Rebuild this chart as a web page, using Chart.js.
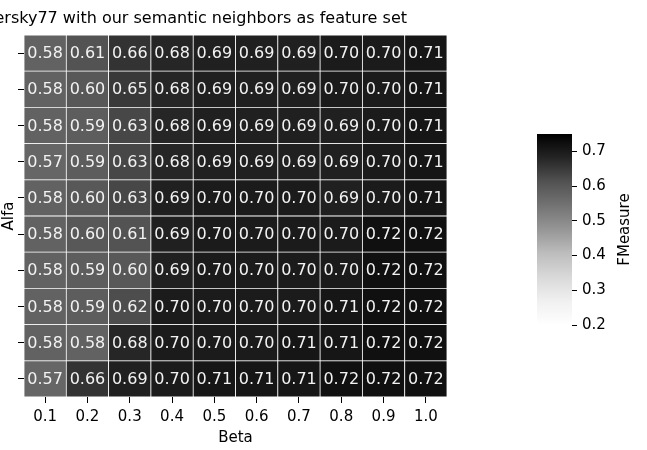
<!DOCTYPE html>
<html>
<head>
<meta charset="utf-8">
<script src="https://cdn.jsdelivr.net/npm/chart.js@4.4.1/dist/chart.umd.min.js"></script>
<style>
  body { margin: 0; background: #fff; }
  #wrap { position: relative; width: 647px; height: 450px; }
  #heat { position: absolute; left: 0; top: 0; }
  #cbar { position: absolute; left: 500px; top: 0; }
</style>
</head>
<body>
<div id="wrap">
  <canvas id="heat" width="647" height="450"></canvas>
  <canvas id="cbar" width="147" height="450"></canvas>
</div>
<script>
// columns (Beta)
const betas = ['0.1', '0.2', '0.3', '0.4', '0.5', '0.6', '0.7', '0.8', '0.9', '1.0'];

// FMeasure per row, from the top row of the heatmap to the bottom one
const row01 = [0.58, 0.61, 0.66, 0.68, 0.69, 0.69, 0.69, 0.70, 0.70, 0.71];
const row02 = [0.58, 0.60, 0.65, 0.68, 0.69, 0.69, 0.69, 0.70, 0.70, 0.71];
const row03 = [0.58, 0.59, 0.63, 0.68, 0.69, 0.69, 0.69, 0.69, 0.70, 0.71];
const row04 = [0.57, 0.59, 0.63, 0.68, 0.69, 0.69, 0.69, 0.69, 0.70, 0.71];
const row05 = [0.58, 0.60, 0.63, 0.69, 0.70, 0.70, 0.70, 0.69, 0.70, 0.71];
const row06 = [0.58, 0.60, 0.61, 0.69, 0.70, 0.70, 0.70, 0.70, 0.72, 0.72];
const row07 = [0.58, 0.59, 0.60, 0.69, 0.70, 0.70, 0.70, 0.70, 0.72, 0.72];
const row08 = [0.58, 0.59, 0.62, 0.70, 0.70, 0.70, 0.70, 0.71, 0.72, 0.72];
const row09 = [0.58, 0.58, 0.68, 0.70, 0.70, 0.70, 0.71, 0.71, 0.72, 0.72];
const row10 = [0.57, 0.66, 0.69, 0.70, 0.71, 0.71, 0.71, 0.72, 0.72, 0.72];
const rows = [row01, row02, row03, row04, row05, row06, row07, row08, row09, row10];

// colorbar
const cbarTicks = [0.2, 0.3, 0.4, 0.5, 0.6, 0.7];
const vmin = 0.2;
const vmax = 0.75;

const chartTitle = 'Tversky77 with our semantic neighbors as feature set';
const xTitle = 'Beta';
const yTitle = 'Alfa';
const cbarTitle = 'FMeasure';

const FONT = 'DejaVu Sans';
const INK = '#000000';

// matplotlib "Greys" stops
const greysStops = [255, 240, 217, 189, 150, 115, 82, 37, 0];
function greys(v) {
    let t = (v - vmin) / (vmax - vmin);
    t = Math.min(1, Math.max(0, t));
    const p = t * 8;
    const i = Math.min(7, Math.floor(p));
    const g = Math.round(greysStops[i] + (greysStops[i + 1] - greysStops[i]) * (p - i));
    return 'rgb(' + g + ',' + g + ',' + g + ')';
}

// one stacked dataset per row, bottom row first
const datasets = [];
for (let r = rows.length - 1; r >= 0; r--) {
    datasets.push({
        label: yTitle + ' ' + (r + 1),
        data: betas.map(() => 1),
        fm: rows[r],
        backgroundColor: rows[r].map(greys),
        borderColor: '#ffffff',
        borderWidth: 0.75,
        borderSkipped: false,
        barPercentage: 1,
        categoryPercentage: 1
    });
}

// text in the cells
const cellText = {
    id: 'cellText',
    afterDatasetsDraw(chart) {
        const ctx = chart.ctx;
        ctx.save();
        ctx.font = '16px "' + FONT + '"';
        ctx.fillStyle = '#f2f2f2';
        ctx.textAlign = 'center';
        ctx.textBaseline = 'middle';
        chart.data.datasets.forEach((ds, di) => {
            chart.getDatasetMeta(di).data.forEach((bar, i) => {
                const c = bar.getCenterPoint();
                ctx.fillText(ds.fm[i].toFixed(2), c.x, c.y + 1);
            });
        });
        ctx.restore();
    }
};

// title, centred on the heatmap like matplotlib does (runs off the left edge)
const heatTitle = {
    id: 'heatTitle',
    afterDraw(chart) {
        const ctx = chart.ctx;
        ctx.save();
        ctx.font = '16px "' + FONT + '"';
        ctx.fillStyle = INK;
        ctx.textAlign = 'right';
        ctx.textBaseline = 'alphabetic';
        ctx.fillText(chartTitle, 407, 23);
        ctx.restore();
    }
};

new Chart(document.getElementById('heat'), {
    type: 'bar',
    data: { labels: betas, datasets: datasets },
    options: {
        responsive: false,
        animation: false,
        layout: { padding: { top: 35, right: 200, bottom: 0, left: 0 } },
        plugins: { legend: { display: false }, tooltip: { enabled: false } },
        scales: {
            x: {
                stacked: true,
                offset: true,
                grid: { drawOnChartArea: false, drawTicks: true, tickLength: 6, tickColor: INK, offset: false },
                border: { display: false },
                ticks: { color: INK, font: { family: FONT, size: 15 }, padding: 5, maxRotation: 0 },
                title: { display: true, text: xTitle, color: INK, font: { family: FONT, size: 15 }, padding: { top: 0, bottom: 3 } },
                afterFit: s => { s.height = 53; }
            },
            y: {
                stacked: true,
                min: 0,
                max: rows.length,
                afterBuildTicks: s => { s.ticks = rows.map((_, i) => ({ value: i + 0.5 })); },
                ticks: { callback: () => '' },
                grid: { drawOnChartArea: false, drawTicks: true, tickLength: 6, tickColor: INK },
                border: { display: false },
                title: { display: true, text: yTitle, color: INK, font: { family: FONT, size: 15 }, padding: 0 },
                afterFit: s => { s.width = 24; }
            }
        }
    },
    plugins: [cellText, heatTitle]
});

// colorbar label, reads bottom to top
const cbarLabel = {
    id: 'cbarLabel',
    afterDraw(chart) {
        const a = chart.chartArea;
        const ctx = chart.ctx;
        ctx.save();
        ctx.translate(125, (a.top + a.bottom) / 2);
        ctx.rotate(-Math.PI / 2);
        ctx.font = '15px "' + FONT + '"';
        ctx.fillStyle = INK;
        ctx.textAlign = 'center';
        ctx.textBaseline = 'middle';
        ctx.fillText(cbarTitle, 0, 0);
        ctx.restore();
    }
};

new Chart(document.getElementById('cbar'), {
    type: 'bar',
    data: {
        labels: [cbarTitle],
        datasets: [{
            data: [[vmin, vmax]],
            backgroundColor: c => {
                const a = c.chart.chartArea;
                if (!a) return '#000';
                const g = c.chart.ctx.createLinearGradient(0, a.bottom, 0, a.top);
                greysStops.forEach((s, i) => g.addColorStop(i / 8, 'rgb(' + s + ',' + s + ',' + s + ')'));
                return g;
            },
            borderWidth: 0,
            barPercentage: 1,
            categoryPercentage: 1
        }]
    },
    options: {
        responsive: false,
        animation: false,
        layout: { padding: { top: 134, right: 0, bottom: 125, left: 37 } },
        plugins: { legend: { display: false }, tooltip: { enabled: false } },
        scales: {
            x: { display: false },
            y: {
                position: 'right',
                min: vmin,
                max: vmax,
                afterBuildTicks: s => { s.ticks = cbarTicks.map(v => ({ value: v })); },
                ticks: { color: INK, font: { family: FONT, size: 15 }, padding: 5, callback: v => v.toFixed(1) },
                grid: { drawOnChartArea: false, drawTicks: true, tickLength: 5, tickColor: INK },
                border: { display: false },
                afterFit: s => { s.width = 75; }
            }
        }
    },
    plugins: [cbarLabel]
});
</script>
</body>
</html>
